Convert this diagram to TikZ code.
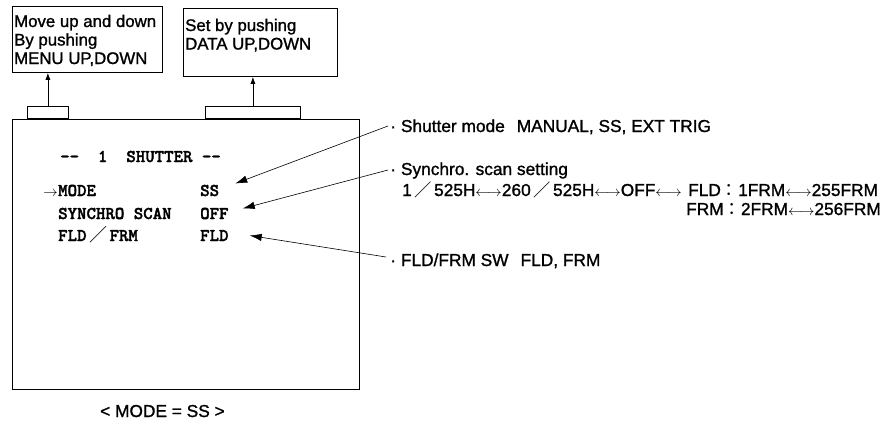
\documentclass[tikz,border=0pt]{standalone}
\usepackage{fontspec}
\setmainfont{Liberation Sans}[FakeBold=1.2]
\newfontfamily\cjkfont{Noto Sans CJK JP}
\newfontfamily\screenfont{lmmonolt10-bold.otf}[FakeBold=1.8]
\usetikzlibrary{arrows.meta,positioning}

\newcommand{\fslash}{\hspace{2.5pt}{\cjkfont ／}\hspace{2.5pt}}
\newcommand{\fcolon}{{\cjkfont ：}}
\newcommand{\dblarrow}{{\fontsize{14}{14}\selectfont$\longleftrightarrow$}}

\tikzset{
  infobox/.style={draw, thick, anchor=north west, inner sep=0pt},
  tab/.style={draw, thick, anchor=south west, minimum height=12pt, inner sep=0pt},
  boxtext/.style={anchor=base west, inner sep=0pt, font=\fontsize{16.8}{18.5}\selectfont},
  screentext/.style={anchor=base west, inner sep=0pt, font=\fontsize{18}{20}\selectfont\screenfont},
  note/.style={anchor=base west, inner sep=0pt, font=\fontsize{17.3}{19}\selectfont},
  pointer/.style={-{Latex[length=12pt,width=7.5pt]}, semithick},
  push/.style={-{Latex[length=7pt,width=5pt]}, thick},
}

\begin{document}
\begin{tikzpicture}[x=1pt, y=-1pt]
  \useasboundingbox (0,0) rectangle (893,423);

  % key boxes
  \node[infobox, minimum width=150pt, minimum height=66pt] (menubox) at (12,6) {};
  \node[infobox, minimum width=154pt, minimum height=68pt] (databox) at (183,8) {};
  \node[boxtext] (menutext) at (14,27) {\parbox[t]{146pt}{Move up and down\\By pushing\\MENU UP,DOWN}};
  \node[boxtext] (datatext) at (185,31) {\parbox[t]{150pt}{Set by pushing\\DATA UP,DOWN}};

  % screen and its tabs
  \node[draw, very thick, anchor=north west, minimum width=347pt, minimum height=270pt, inner sep=0pt] (screen) at (12,119) {};
  \node[tab, minimum width=41pt] (menutab) at (27,119) {};
  \node[tab, minimum width=95pt] (datatab) at (205,119) {};
  \draw[push] (menutab.north) -- (menutab.north |- menubox.south);
  \draw[push] (datatab.north) -- (datatab.north |- databox.south);

  \node[screentext] (title) at (60,162) {{-}{-}\ \ 1\ \ SHUTTER {-}{-}};
  \node[screentext] (mode) at (58,196) {MODE};
  \node[screentext, anchor=base east] (cursor) at (mode.base west) {\fontsize{14}{14}\selectfont$\rightarrow$};
  \node[screentext] (scan) at (58,219) {SYNCHRO SCAN};
  \node[screentext] (fldfrm) at (58,241) {FLD\fslash FRM};
  \node[screentext] (modeval) at (200,196) {SS};
  \node[screentext] (scanval) at (200,219) {OFF};
  \node[screentext] (fldval) at (200,241) {FLD};

  % settings
  \node[note] (modenote) at (390,132) {·\hspace{5pt}Shutter mode\hspace{12pt}MANUAL, SS, EXT TRIG};
  \node[note] (scannote) at (390,175) {·\hspace{5pt}Synchro. scan setting};
  \node[note] (scanlist) at (402,196) {1\fslash 525H\dblarrow 260\fslash 525H\dblarrow OFF\dblarrow};
  \node[note] (fldlist) at (688,196) {FLD\fcolon 1FRM\dblarrow 255FRM};
  \node[note] (frmlist) at (686,215) {FRM\fcolon 2FRM\dblarrow 256FRM};
  \node[note] (fldnote) at (390,266) {·\hspace{5pt}FLD/FRM SW\hspace{12pt}FLD, FRM};

  \draw[pointer] ([xshift=-2pt,yshift=6pt]modenote.base west) -- ([xshift=16pt,yshift=7pt]modeval.east);
  \draw[pointer] ([xshift=-2pt,yshift=5pt]scannote.base west) -- ([xshift=14pt,yshift=5pt]scanval.east);
  \draw[pointer] ([xshift=-4pt,yshift=9pt]fldnote.base west) -- ([xshift=21pt]fldval.east);

  \node[note] (caption) at (100,417) {< MODE = SS >};
\end{tikzpicture}
\end{document}
